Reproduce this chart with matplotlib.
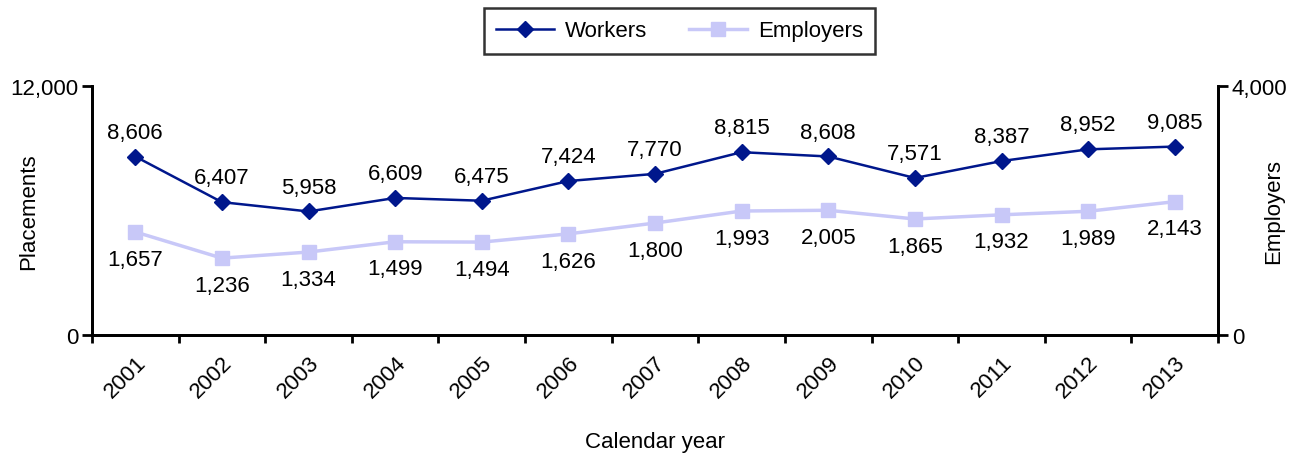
import numpy as np
import matplotlib
matplotlib.use('Agg')
import matplotlib.pyplot as plt
from matplotlib.ticker import FuncFormatter

plt.rcParams['font.family'] = ['Liberation Sans', 'DejaVu Sans']

years = ['2001', '2002', '2003', '2004', '2005', '2006', '2007',
         '2008', '2009', '2010', '2011', '2012', '2013']
workers = [8606, 6407, 5958, 6609, 6475, 7424, 7770, 8815, 8608, 7571, 8387, 8952, 9085]
employers = [1657, 1236, 1334, 1499, 1494, 1626, 1800, 1993, 2005, 1865, 1932, 1989, 2143]

navy = '#00178C'
lavender = '#C8C8F8'
fs = 16

fig = plt.figure(figsize=(12.99, 4.56), dpi=100)
ax = fig.add_axes([0.0708, 0.263, 0.8669, 0.546])
ax2 = ax.twinx()

x = np.arange(len(years))
l1, = ax.plot(x, workers, color=navy, lw=1.8, marker='D', ms=8, label='Workers', zorder=3)
l2, = ax2.plot(x, employers, color=lavender, lw=2.5, marker='s', ms=10, label='Employers', zorder=3)

for xi, v in zip(x, workers):
    ax.annotate(f'{v:,}', (xi, v), xytext=(0, 10), textcoords='offset points',
                ha='center', va='bottom', fontsize=fs)
for xi, v in zip(x, employers):
    ax2.annotate(f'{v:,}', (xi, v), xytext=(0, -12), textcoords='offset points',
                 ha='center', va='top', fontsize=fs)

fmt = FuncFormatter(lambda v, p: f'{v:,.0f}')
ax.set_xlim(-0.5, len(years) - 0.5)
ax.set_ylim(0, 12000)
ax.set_yticks([0, 12000])
ax.yaxis.set_major_formatter(fmt)
ax2.set_ylim(0, 4000)
ax2.set_yticks([0, 4000])
ax2.yaxis.set_major_formatter(fmt)

# category labels centred, tick marks on category boundaries
ax.set_xticks(x)
ax.set_xticklabels(years, rotation=45, ha='right', rotation_mode='anchor', fontsize=fs)
ax.set_xticks(np.arange(-0.5, len(years)), minor=True)
ax.tick_params(axis='x', which='major', length=0, pad=12)
ax.tick_params(axis='x', which='minor', length=6, width=2, direction='out')
ax.tick_params(axis='y', length=7, width=2, labelsize=fs, pad=3)
ax2.tick_params(axis='y', length=7, width=2, labelsize=fs, pad=3)

for a in (ax, ax2):
    a.spines['top'].set_visible(False)
    for s in ('left', 'right', 'bottom'):
        a.spines[s].set_linewidth(2)

ax.set_ylabel('Placements', fontsize=fs)
ax.yaxis.set_label_coords(-0.047, 0.5)
ax2.set_ylabel('Employers', fontsize=fs, rotation=90)
ax2.yaxis.set_label_coords(1.04, 0.5)
ax.set_xlabel('Calendar year', fontsize=fs)
ax.xaxis.set_label_coords(0.5, -0.385)

leg = fig.legend(handles=[l1, l2], loc='center', bbox_to_anchor=(0.5232, 0.930),
                 ncol=2, fontsize=fs, frameon=True, fancybox=False,
                 edgecolor='black', handlelength=2.6, handletextpad=0.5,
                 columnspacing=1.9, borderpad=0.55)
leg.get_frame().set_linewidth(1.8)

fig.savefig('out.png', dpi=100)
